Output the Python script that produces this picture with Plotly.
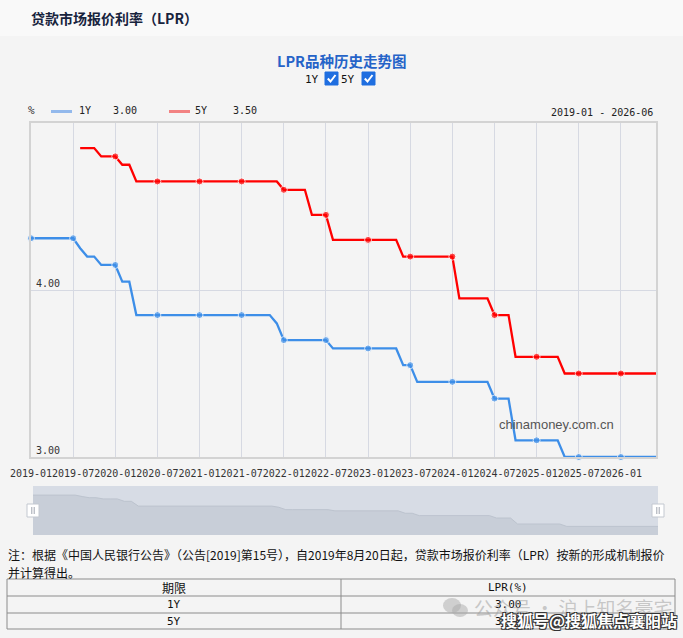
import plotly.graph_objects as go

W, H = 683, 638

# monthly categories, 2019-01 .. 2026-06
months = [f"{y}-{m:02d}" for y in range(2019, 2027) for m in range(1, 13)][:90]

lpr_1y = [
    4.31, 4.31, 4.31, 4.31, 4.31, 4.31, 4.31, 4.25, 4.20, 4.20, 4.15, 4.15,  # 2019
    4.15, 4.05, 4.05, 3.85, 3.85, 3.85, 3.85, 3.85, 3.85, 3.85, 3.85, 3.85,  # 2020
    3.85, 3.85, 3.85, 3.85, 3.85, 3.85, 3.85, 3.85, 3.85, 3.85, 3.85, 3.80,  # 2021
    3.70, 3.70, 3.70, 3.70, 3.70, 3.70, 3.70, 3.65, 3.65, 3.65, 3.65, 3.65,  # 2022
    3.65, 3.65, 3.65, 3.65, 3.65, 3.55, 3.55, 3.45, 3.45, 3.45, 3.45, 3.45,  # 2023
    3.45, 3.45, 3.45, 3.45, 3.45, 3.45, 3.35, 3.35, 3.35, 3.10, 3.10, 3.10,  # 2024
    3.10, 3.10, 3.10, 3.10, 3.00, 3.00, 3.00, 3.00, 3.00, 3.00, 3.00, 3.00,  # 2025
    3.00, 3.00, 3.00, 3.00, 3.00, 3.00,                                      # 2026
]
lpr_5y = [
    None, None, None, None, None, None, None, 4.85, 4.85, 4.85, 4.80, 4.80,  # 2019
    4.80, 4.75, 4.75, 4.65, 4.65, 4.65, 4.65, 4.65, 4.65, 4.65, 4.65, 4.65,  # 2020
    4.65, 4.65, 4.65, 4.65, 4.65, 4.65, 4.65, 4.65, 4.65, 4.65, 4.65, 4.65,  # 2021
    4.60, 4.60, 4.60, 4.60, 4.45, 4.45, 4.45, 4.30, 4.30, 4.30, 4.30, 4.30,  # 2022
    4.30, 4.30, 4.30, 4.30, 4.30, 4.20, 4.20, 4.20, 4.20, 4.20, 4.20, 4.20,  # 2023
    4.20, 3.95, 3.95, 3.95, 3.95, 3.95, 3.85, 3.85, 3.85, 3.60, 3.60, 3.60,  # 2024
    3.60, 3.60, 3.60, 3.60, 3.50, 3.50, 3.50, 3.50, 3.50, 3.50, 3.50, 3.50,  # 2025
    3.50, 3.50, 3.50, 3.50, 3.50, 3.50,                                      # 2026
]
terms = ["1Y", "5Y"]
y_ticks = [3, 4]

BLUE = "#3d8ee8"
RED = "#ff0000"
MONO = "DejaVu Sans Mono"
CJK = "Noto Sans CJK SC"


def px(x):
    return x / W


def py(y):
    return 1 - y / H


# months on a numeric axis (one unit per month), labelled every 6 months
idx = list(range(len(months)))
tick_idx = idx[::6]
tick_txt = [months[i] for i in tick_idx]
marker_sizes = [7 if m[-2:] in ("01", "07") else 0 for m in months]

fig = go.Figure()
fig.add_trace(go.Scatter(x=idx, y=lpr_1y, mode="lines+markers", name="1Y",
                         line=dict(color=BLUE, width=2.3),
                         marker=dict(size=marker_sizes, color=BLUE),
                         customdata=months, cliponaxis=False))
fig.add_trace(go.Scatter(x=idx, y=lpr_5y, mode="lines+markers", name="5Y",
                         line=dict(color=RED, width=2.3),
                         marker=dict(size=marker_sizes, color=RED),
                         customdata=months, cliponaxis=False))
# invisible copy that carries the y label axis (labels drawn just right of the frame)
fig.add_trace(go.Scatter(x=idx, y=lpr_1y, mode="lines", opacity=0, hoverinfo="skip",
                         line=dict(width=0), yaxis="y3"))
# data zoom preview
fig.add_trace(go.Scatter(x=idx, y=lpr_1y, mode="lines", fill="tozeroy",
                         line=dict(color="#bcc3ce", width=1),
                         fillcolor="#c8ced8", xaxis="x2", yaxis="y2"))

shapes = []
annotations = []


def text(x, y, s, size=10, color="#222", family=MONO, anchor="left", **kw):
    annotations.append(dict(x=px(x), y=py(y), xref="paper", yref="paper", text=s,
                            showarrow=False, xanchor=anchor, yanchor="middle",
                            font=dict(size=size, color=color, family=family, **kw)))


def rect(x0, y0, x1, y1, fill=None, line="rgba(0,0,0,0)", lw=1, layer="below"):
    shapes.append(dict(type="rect", xref="paper", yref="paper",
                       x0=px(x0), y0=py(y0), x1=px(x1), y1=py(y1),
                       fillcolor=fill, line=dict(color=line, width=lw), layer=layer))


def seg(x0, y0, x1, y1, color, lw=1, layer="above"):
    shapes.append(dict(type="line", xref="paper", yref="paper",
                       x0=px(x0), y0=py(y0), x1=px(x1), y1=py(y1),
                       line=dict(color=color, width=lw), layer=layer))


# header band
rect(0, 0, W, 36, fill="#f9f9f9")
text(29, 18, "贷款市场报价利率（LPR）", size=14, color="#17233d", family=CJK, weight="bold")

# title and checkboxes
text(W / 2, 60, "LPR品种历史走势图", size=14.5, color="#2563c8", family=CJK, anchor="center",
     weight="bold")
for lbl, tx, cx in [(terms[0], 312, 325), (terms[1], 348, 362)]:
    text(tx, 79, lbl, size=11, color="#111", anchor="center")
    rect(cx, 72, cx + 13, 85, fill="#1f6ee0", line="#1f6ee0", layer="above")
    p = (f"M{px(cx + 2.8)},{py(78.5)} L{px(cx + 5.5)},{py(81.5)} L{px(cx + 10.5)},{py(75)}")
    shapes.append(dict(type="path", xref="paper", yref="paper", path=p,
                       line=dict(color="white", width=2), layer="above"))

# legend row
text(31, 110, "%", size=11, color="#333", anchor="center")
seg(51, 111.5, 72, 111.5, "#93b9ec", 3)
text(77, 111, terms[0], size=10, color="#222")
text(111, 111, f"{lpr_1y[-1]:.2f}", size=10, color="#222")
seg(169, 111.5, 190, 111.5, "#f28282", 3)
text(193, 111, terms[1], size=10, color="#222")
text(231, 111, f"{lpr_5y[-1]:.2f}", size=10, color="#222")
text(655, 112, f"{months[0]} - {months[-1]}", size=10, color="#222", anchor="right")

# watermark in plot
text(497, 424, "chinamoney.com.cn", size=13, color="#555", family="Liberation Sans")

# slider
rect(33, 486, 658, 535, fill="#d7dce5")
for hx in (33, 658):
    rect(hx - 6, 504, hx + 6, 517, fill="white", line="#c3c8d0", layer="above")
    seg(hx - 1.2, 507, hx - 1.2, 514, "#a0a6b0", 1)
    seg(hx + 1.2, 507, hx + 1.2, 514, "#a0a6b0", 1)

# note
text(6, 554, "注：根据《中国人民银行公告》（公告[2019]第15号），自2019年8月20日起，贷款市场报价利率（LPR）按新的形成机制报价",
     size=12, color="#111", family=CJK)
text(6, 572, "并计算得出。", size=12, color="#111", family=CJK)

# table
rect(7, 579, 675, 629, line="#8c8c8c", layer="above")
seg(7, 596, 675, 596, "#8c8c8c")
seg(7, 613, 675, 613, "#8c8c8c")
seg(341, 579, 341, 629, "#8c8c8c")
text(174, 587.5, "期限", size=12, color="#111", family=CJK, anchor="center")
text(508, 587.5, "LPR(%)", size=11, color="#111", anchor="center")
for row_y, term, rate in [(604.5, terms[0], lpr_1y[-1]), (621.5, terms[1], lpr_5y[-1])]:
    text(174, row_y, term, size=11, color="#111", anchor="center")
    text(508, row_y, f"{rate:.2f}", size=11, color="#111", anchor="center")

# page watermarks
shapes.append(dict(type="circle", xref="paper", yref="paper", x0=px(443), y0=py(598),
                   x1=px(461), y1=py(613), fillcolor="rgba(170,170,170,0.5)",
                   line=dict(width=0), layer="above"))
shapes.append(dict(type="circle", xref="paper", yref="paper", x0=px(452), y0=py(604),
                   x1=px(468), y1=py(617), fillcolor="rgba(170,170,170,0.5)",
                   line=dict(width=0), layer="above"))
text(472, 607, "公众号 · 沪上知名豪宅", size=19, color="rgba(160,160,160,0.55)", family=CJK)
text(499, 620, "搜狐号@搜狐焦点襄阳站", size=16, color="white", family=CJK, weight="bold",
     shadow="-1px -1px 0 #333, 1px -1px 0 #333, -1px 1px 0 #333, 1px 1px 0 #333")

fig.update_layout(
    width=W, height=H,
    margin=dict(l=0, r=0, t=0, b=0, pad=0),
    paper_bgcolor="#f4f4f4",
    plot_bgcolor="rgba(0,0,0,0)",
    showlegend=False,
    shapes=shapes,
    annotations=annotations,
    xaxis=dict(domain=[px(31), px(656)], range=[0, len(months) - 1],
               tickmode="array", tickvals=tick_idx, ticktext=tick_txt,
               tickangle=0, ticks="", ticklabelstandoff=6, ticklabeloverflow="allow",
               tickfont=dict(family=MONO, size=10, color="#333"),
               showgrid=True, gridcolor="#d6d9e2", gridwidth=1,
               showline=True, mirror=True, linecolor="#d3d3d3", linewidth=2,
               zeroline=False, anchor="y", automargin=False),
    yaxis=dict(domain=[py(457), py(123)], range=[3, 5], tickmode="array",
               tickvals=y_ticks, showticklabels=False, ticks="",
               showgrid=True, gridcolor="#d6d9e2", gridwidth=1,
               showline=True, mirror=True, linecolor="#d3d3d3", linewidth=2,
               zeroline=False, anchor="x", automargin=False),
    yaxis3=dict(overlaying="y", side="right", anchor="free", position=px(31),
                range=[3, 5], tickmode="array", tickvals=y_ticks, tickformat=".2f",
                ticklabelposition="outside top", ticks="", ticklabelstandoff=4,
                tickfont=dict(family=MONO, size=10, color="#333"),
                showgrid=False, showline=False, zeroline=False, automargin=False),
    xaxis2=dict(domain=[px(33), px(658)], range=[0, len(months) - 1],
                visible=False, anchor="y2", automargin=False),
    yaxis2=dict(domain=[py(535), py(486)], range=[2.64, 4.69], visible=False,
                anchor="x2", automargin=False),
)

fig.write_html("out.html", config={"displayModeBar": False},
               post_script="document.body.style.margin='0px';"
                           "document.body.style.overflow='hidden';")
